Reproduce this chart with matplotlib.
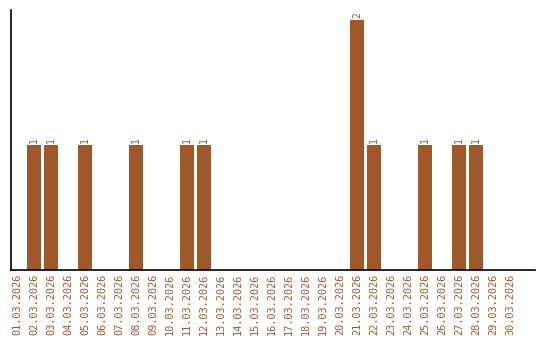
import matplotlib
matplotlib.use("Agg")
import matplotlib.pyplot as plt

dates = [f"{d:02d}.03.2026" for d in range(1, 31)]
counts = [0, 1, 1, 0, 1, 0, 0, 1, 0, 0, 1, 1, 0, 0, 0, 0, 0, 0, 0, 0,
          2, 1, 0, 0, 1, 0, 1, 1, 0, 0]

color = "#A0582A"
W, H = 540, 340
fig = plt.figure(figsize=(W / 100, H / 100), dpi=100)
ax = fig.add_axes([11 / W, 70 / H, 524 / W, 260 / H])
x = list(range(len(dates)))
ax.bar(x, counts, width=0.82, color=color)
for xi, c in zip(x, counts):
    if c > 0:
        ax.text(xi, c + 0.02, str(c), rotation=90, ha="center", va="bottom",
                color=color, fontsize=7, family="DejaVu Sans Mono")
ax.set_xlim(-0.35, 30.47)
ax.set_ylim(0, 2.08)
ax.set_xticks(x)
ax.set_xticklabels(dates, rotation=90, color=color, fontsize=7.4,
                   family="DejaVu Sans Mono")
ax.tick_params(axis="x", length=0, pad=3)
ax.set_yticks([])
ax.spines["top"].set_visible(False)
ax.spines["right"].set_visible(False)
ax.spines["left"].set_linewidth(1.2)
ax.spines["bottom"].set_linewidth(1.2)
fig.savefig("out.png", dpi=100)
